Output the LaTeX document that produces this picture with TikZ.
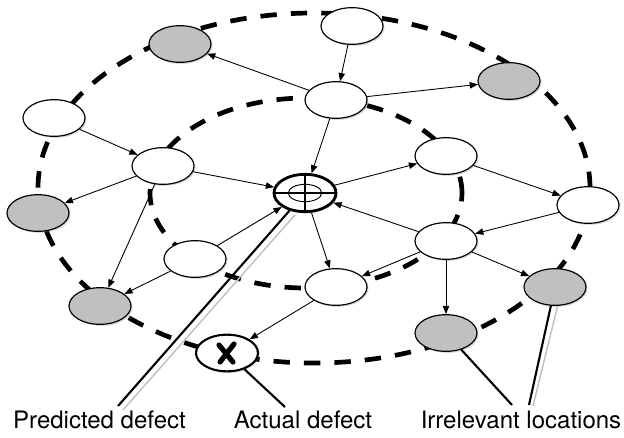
\documentclass[tikz,border=0pt]{standalone}
\usepackage{fontspec}
\setmainfont{TeX Gyre Heros}
\usetikzlibrary{shapes.geometric,arrows.meta,shadows}
\definecolor{locgray}{RGB}{192,192,192}
\begin{document}
\begin{tikzpicture}[x=0.03cm,y=-0.03cm,
  loc/.style={ellipse,draw,line width=1pt,fill=white,minimum width=1.86cm,minimum height=1.1cm,inner sep=0pt,
    drop shadow={shadow xshift=1.3pt,shadow yshift=-1.3pt,opacity=0.3}},
  irr/.style={loc,fill=locgray},
  edge/.style={line width=0.75pt,-{Triangle[length=7pt,width=5.5pt]}},
  region/.style={line width=4pt,dash pattern=on 14pt off 12pt},
  leader/.style={line width=1.8pt},
  leadershadow/.style={line width=1.2pt,black!25},
  lbl/.style={font=\fontsize{20.5pt}{24pt}\selectfont,anchor=base,inner sep=0pt}]
\useasboundingbox (0,0) rectangle (624,437);

% regions
\draw[region] (314,188) ellipse [x radius=8.28cm, y radius=5.25cm];
\draw[region] (306,193) ellipse [x radius=4.68cm, y radius=2.85cm];

% locations
\node[loc] (A) at (352,26) {};
\node[irr] (B) at (180,44) {};
\node[irr] (C) at (509,81) {};
\node[loc] (D) at (336,100) {};
\node[loc] (E) at (54,118) {};
\node[loc] (F) at (163,166) {};
\node[loc] (G) at (446,156) {};
\node[irr] (H) at (38,213) {};
\node[loc] (I) at (588,205) {};
\node[loc] (J) at (446,241) {};
\node[loc] (K) at (195,259) {};
\node[loc] (L) at (336,287) {};
\node[irr] (M) at (100,306) {};
\node[irr] (N) at (555,287) {};
\node[irr] (O) at (446,333) {};

% predicted defect (target)
\node[ellipse,draw,line width=2.4pt,fill=white,minimum width=1.86cm,minimum height=1.12cm,inner sep=0pt,
  drop shadow={shadow xshift=1.3pt,shadow yshift=-1.3pt,opacity=0.3}] (T) at (305,193) {};
\draw[line width=0.8pt] (T.center) ellipse [x radius=0.5cm, y radius=0.26cm];
\draw[line width=1.6pt] (T.west) -- (T.east) (T.north) -- (T.south);

% actual defect
\node[loc,line width=1.8pt] (X) at (227,353) {};
\draw[line width=4.4pt,line cap=round]
  ([shift={(-8,-8)}]X.center) -- ([shift={(6,9)}]X.center)
  ([shift={(7,-9)}]X.center) -- ([shift={(-7,9)}]X.center);

% edges
\draw[edge] (A) -- (D);
\draw[edge] (D) -- (B);
\draw[edge] (D) -- (C);
\draw[edge] (D) -- (T);
\draw[edge] (E) -- (F);
\draw[edge] (F) -- (H);
\draw[edge] (F) -- (T);
\draw[edge] (F) -- (M);
\draw[edge] (G) -- (I);
\draw[edge] (T) -- (G);
\draw[edge] (I) -- (J);
\draw[edge] (J) -- (T);
\draw[edge] (J) -- (L);
\draw[edge] (J) -- (O);
\draw[edge] (J) -- (N);
\draw[edge] (T) -- (L);
\draw[edge] (K) -- (T);
\draw[edge] (K) -- (M);
\draw[edge] (L) -- (X);

% labels and leaders
\node[lbl] (tp) at (99.5,428) {Predicted defect};
\node[lbl] (ta) at (303,428) {Actual defect};
\node[lbl] (ti) at (521,428) {Irrelevant locations};
\coordinate (pd) at (118,406);
\coordinate (ad) at (285,407);
\coordinate (il1) at (512,405);
\coordinate (il2) at (529,405);
\draw[leadershadow] ([shift={(5,4)}]T.230) -- ([shift={(5,4)}]pd);
\draw[leader] (T) -- (pd);
\draw[leader] (X) -- (ad);
\draw[leader] (O) -- (il1);
\draw[leadershadow] ([shift={(4,1)}]N.265) -- ([shift={(4,1)}]il2);
\draw[leader] (N) -- (il2);
\end{tikzpicture}
\end{document}
